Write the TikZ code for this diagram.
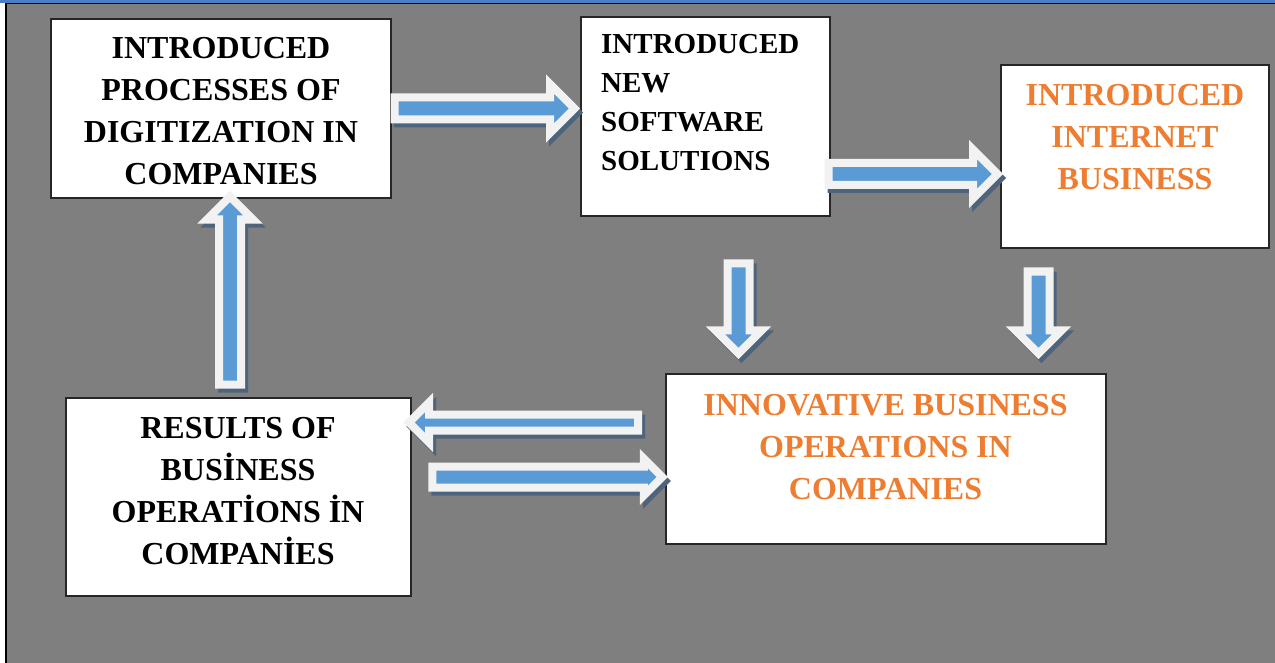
\documentclass[tikz,border=0pt]{standalone}
\usepackage{fontspec}
\setmainfont{Liberation Serif}
\usepackage{tikz}
\usetikzlibrary{
  positioning,
  shapes.arrows,
  shadows
}
\usepackage{xcolor}
\definecolor{bggray}{HTML}{7F7F7F}
\definecolor{topblue}{HTML}{4A7EC8}
\definecolor{arrblue}{HTML}{5B9BD5}
\definecolor{arrwhite}{HTML}{F2F2F2}
\definecolor{arrshadow}{HTML}{4E647C}
\definecolor{orangetxt}{HTML}{ED7D31}

\begin{document}
\begin{tikzpicture}[
  x=1pt, y=-1pt,
  box/.style={draw=black!85, fill=white, line width=1.2pt, inner sep=0pt},
  lbl/.style={inner sep=0pt, align=center, font=\bfseries\fontsize{32}{42}\selectfont},
  blkarrow/.style={single arrow, draw=arrwhite, fill=arrblue, line width=8pt,
               inner sep=0pt, text width=0pt, text height=0pt, text depth=0pt,
               single arrow head extend=12pt,
               general shadow={shadow xshift=3pt, shadow yshift=-4pt,
                               fill=arrshadow, draw=arrshadow, line width=8pt}},
  horiz/.style={inner ysep=#1},
  vert/.style={inner xsep=#1},
]
  \useasboundingbox (0,0) rectangle (1275,663);

  % frame
  \fill[bggray] (6,3) rectangle (1275,663);
  \fill[topblue] (0,0) rectangle (1275,2.6);
  \draw[black, line width=1.2pt] (6,3.2) -- (1275,3.2);
  \draw[black, line width=2pt] (6,3) -- (6,663);

  % boxes
  \node[box, minimum width=340, minimum height=179] (proc) at (221,108.5) {};
  \node[box, minimum width=249, minimum height=199] (soft) at (705.5,116.5) {};
  \node[box, minimum width=268, minimum height=183] (inet) at (1135,156.5) {};
  \node[box, minimum width=440, minimum height=170] (innov) at (886,459) {};
  \node[box, minimum width=345, minimum height=198] (res) at (238.5,497) {};

  % texts
  \node[lbl] (proc-t) at (221,111.5) {INTRODUCED\\PROCESSES OF\\DIGITIZATION IN\\COMPANIES};
  \node[lbl, align=left, anchor=west, font=\bfseries\fontsize{29}{39}\selectfont]
    (soft-t) at (601,102.5) {INTRODUCED\\NEW\\SOFTWARE\\SOLUTIONS};
  \node[lbl, text=orangetxt] (inet-t) at (1135,137.3) {INTRODUCED\\INTERNET\\BUSINESS};
  \node[lbl, text=orangetxt] (innov-t) at (885.5,447) {INNOVATIVE BUSINESS\\OPERATIONS IN\\COMPANIES};
  \node[lbl] (res-t) at (238,490.75) {RESULTS OF\\BUSİNESS\\OPERATİONS İN\\COMPANİES};

  % arrows
  \node[blkarrow, horiz=7pt, minimum height=180, single arrow head extend=13.5pt] (a1) at (479,108.5) {};
  \node[blkarrow, horiz=7pt, minimum height=169, single arrow head extend=13.5pt] (a2) at (907.5,174) {};
  \node[blkarrow, vert=7pt, minimum height=188, shape border rotate=90] (a3) at (230,296) {};
  \node[blkarrow, vert=7pt, minimum height=90, shape border rotate=270] (a4) at (738.5,303) {};
  \node[blkarrow, vert=7pt, minimum height=82, shape border rotate=270] (a5) at (1038.5,307) {};
  \node[blkarrow, horiz=4pt, minimum height=229, shape border rotate=180] (a6) at (527.5,422.5) {};
  \node[blkarrow, horiz=6.5pt, minimum height=230, single arrow head extend=8pt] (a7) at (542,477) {};
\end{tikzpicture}
\end{document}
